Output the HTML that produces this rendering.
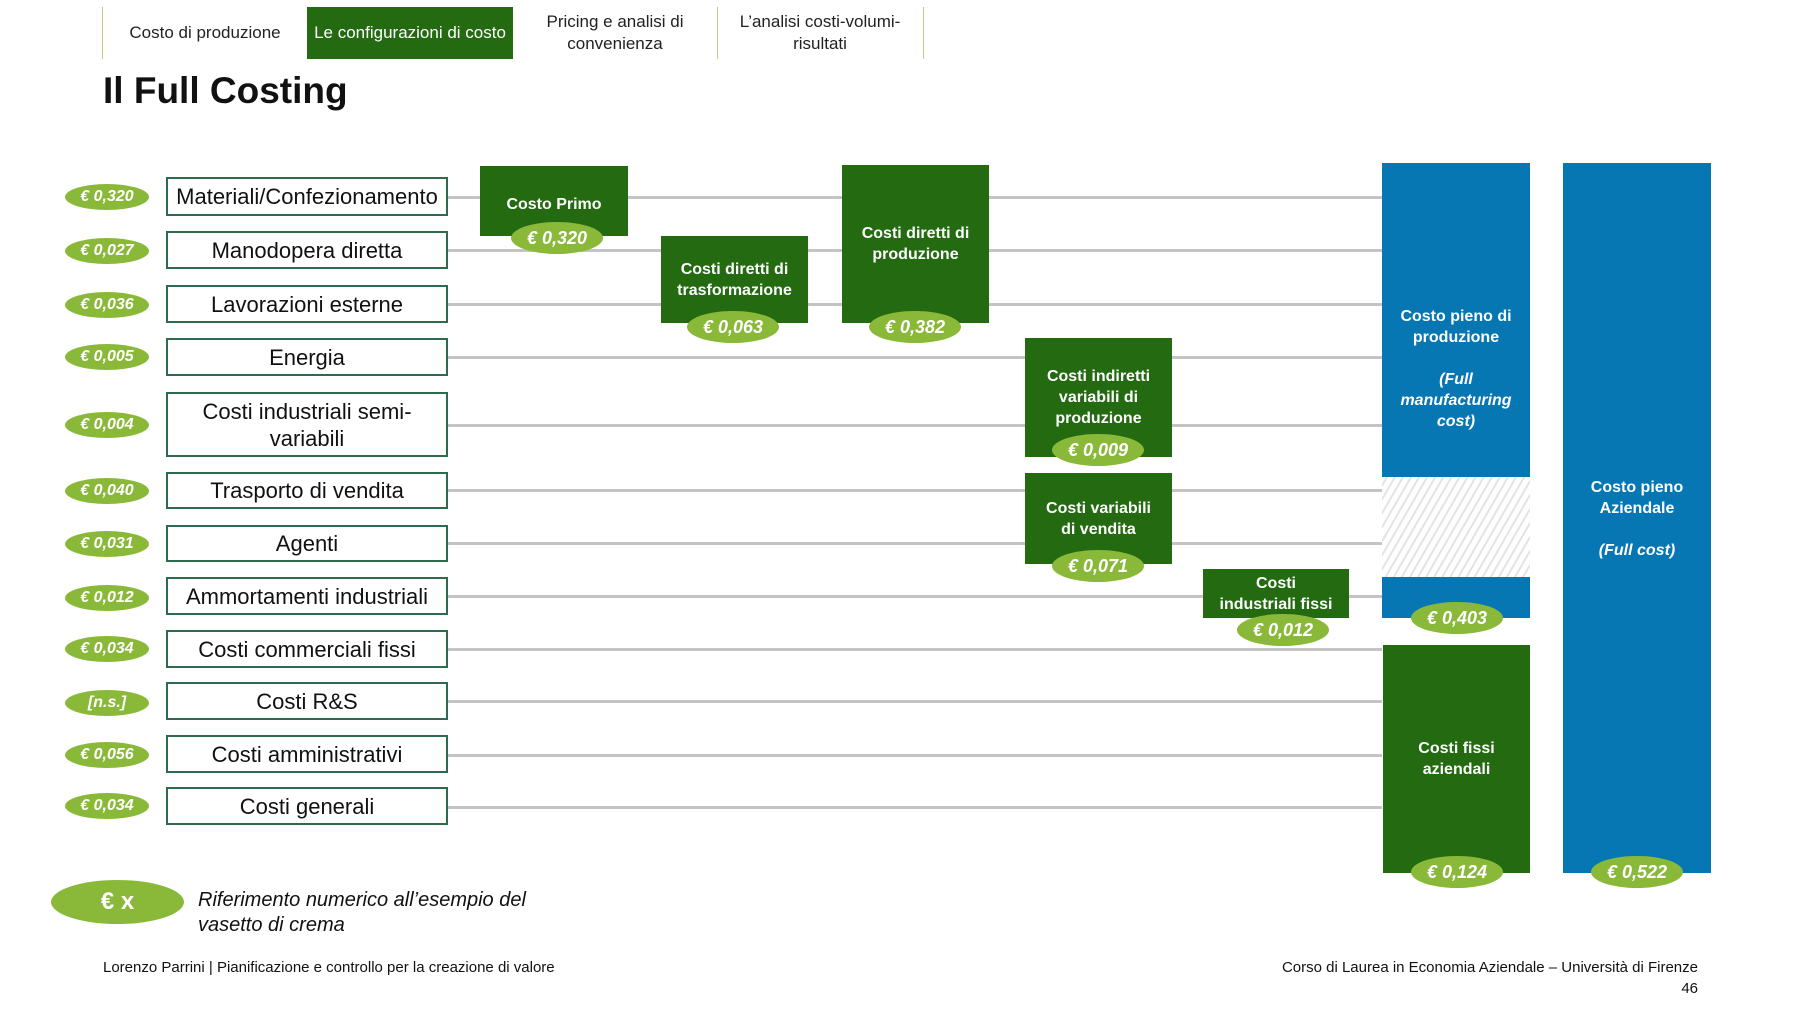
<!DOCTYPE html>
<html><head><meta charset="utf-8"><style>
body{margin:0;width:1800px;height:1013px;background:#fff;position:relative;overflow:hidden;font-family:"Liberation Sans Narrow","Liberation Sans",sans-serif;}
.a{position:absolute;}
.tab{position:absolute;top:7px;height:52px;display:flex;align-items:center;justify-content:center;text-align:center;font-size:17px;color:#222;line-height:22px;}
.sep{position:absolute;top:7px;width:1px;height:52px;background:#c9c48a;}
.pill{position:absolute;width:84px;height:26px;border-radius:50%;background:#8ab93a;color:#fff;font-weight:bold;font-style:italic;font-size:16px;display:flex;align-items:center;justify-content:center;}
.bp{position:absolute;width:92px;height:32px;border-radius:50%;background:#8ab93a;color:#fff;font-weight:bold;font-style:italic;font-size:18px;display:flex;align-items:center;justify-content:center;font-family:"Liberation Sans",sans-serif;}
.box{position:absolute;left:166px;width:282px;border:2px solid #2e6b4e;box-sizing:border-box;background:#fff;display:flex;align-items:center;justify-content:center;text-align:center;font-size:22px;color:#111;line-height:27px;font-family:"Liberation Sans",sans-serif;white-space:nowrap;}
.ln{position:absolute;left:448px;height:3px;background:#c4c4c4;}
.g{position:absolute;background:#236a11;color:#fff;font-weight:bold;font-size:16px;display:flex;align-items:center;justify-content:center;text-align:center;line-height:21px;font-family:"Liberation Sans",sans-serif;box-sizing:border-box;}
.bl{position:absolute;background:#0677b3;}
.wt{position:absolute;color:#fff;font-weight:bold;font-size:16px;text-align:center;line-height:21px;font-family:"Liberation Sans",sans-serif;}
</style></head><body>
<div class="sep" style="left:102px"></div>
<div class="tab" style="left:103px;width:204px">Costo di produzione</div>
<div class="tab" style="left:307px;width:206px;background:#236a11;color:#fff">Le configurazioni di costo</div>
<div class="tab" style="left:513px;width:204px">Pricing e analisi di<br>convenienza</div>
<div class="sep" style="left:717px"></div>
<div class="tab" style="left:718px;width:204px">L’analisi costi-volumi-<br>risultati</div>
<div class="sep" style="left:923px"></div>
<div class="a" style="left:103px;top:70px;font-size:37px;font-weight:bold;color:#111;font-family:'Liberation Sans',sans-serif">Il Full Costing</div>

<div class="ln" style="top:196px;width:934px"></div>
<div class="ln" style="top:249px;width:934px"></div>
<div class="ln" style="top:303px;width:934px"></div>
<div class="ln" style="top:356px;width:934px"></div>
<div class="ln" style="top:424px;width:934px"></div>
<div class="ln" style="top:489px;width:934px"></div>
<div class="ln" style="top:542px;width:934px"></div>
<div class="ln" style="top:595px;width:934px"></div>
<div class="ln" style="top:648px;width:934px"></div>
<div class="ln" style="top:700px;width:934px"></div>
<div class="ln" style="top:754px;width:934px"></div>
<div class="ln" style="top:806px;width:934px"></div>

<div class="box" style="top:177px;height:39px">Materiali/Confezionamento</div>
<div class="box" style="top:231px;height:38px">Manodopera diretta</div>
<div class="box" style="top:285px;height:38px">Lavorazioni esterne</div>
<div class="box" style="top:338px;height:38px">Energia</div>
<div class="box" style="top:392px;height:65px">Costi industriali semi-<br>variabili</div>
<div class="box" style="top:472px;height:37px">Trasporto di vendita</div>
<div class="box" style="top:525px;height:37px">Agenti</div>
<div class="box" style="top:577px;height:38px">Ammortamenti industriali</div>
<div class="box" style="top:630px;height:38px">Costi commerciali fissi</div>
<div class="box" style="top:682px;height:38px">Costi R&amp;S</div>
<div class="box" style="top:735px;height:38px">Costi amministrativi</div>
<div class="box" style="top:787px;height:38px">Costi generali</div>

<div class="pill" style="left:65px;top:184px">€ 0,320</div>
<div class="pill" style="left:65px;top:238px">€ 0,027</div>
<div class="pill" style="left:65px;top:292px">€ 0,036</div>
<div class="pill" style="left:65px;top:344px">€ 0,005</div>
<div class="pill" style="left:65px;top:412px">€ 0,004</div>
<div class="pill" style="left:65px;top:478px">€ 0,040</div>
<div class="pill" style="left:65px;top:531px">€ 0,031</div>
<div class="pill" style="left:65px;top:585px">€ 0,012</div>
<div class="pill" style="left:65px;top:636px">€ 0,034</div>
<div class="pill" style="left:65px;top:690px">[n.s.]</div>
<div class="pill" style="left:65px;top:742px">€ 0,056</div>
<div class="pill" style="left:65px;top:793px">€ 0,034</div>

<div class="g" style="left:480px;top:166px;width:148px;height:70px;padding-top:6px">Costo Primo</div>
<div class="bp" style="left:511px;top:222px">€ 0,320</div>
<div class="g" style="left:661px;top:236px;width:147px;height:87px">Costi diretti di<br>trasformazione</div>
<div class="bp" style="left:687px;top:311px">€ 0,063</div>
<div class="g" style="left:842px;top:165px;width:147px;height:158px">Costi diretti di<br>produzione</div>
<div class="bp" style="left:869px;top:311px">€ 0,382</div>
<div class="g" style="left:1025px;top:338px;width:147px;height:119px">Costi indiretti<br>variabili di<br>produzione</div>
<div class="bp" style="left:1052px;top:434px">€ 0,009</div>
<div class="g" style="left:1025px;top:473px;width:147px;height:91px">Costi variabili<br>di vendita</div>
<div class="bp" style="left:1052px;top:550px">€ 0,071</div>
<div class="g" style="left:1203px;top:569px;width:146px;height:49px">Costi<br>industriali fissi</div>
<div class="bp" style="left:1237px;top:614px">€ 0,012</div>

<div class="bl" style="left:1382px;top:163px;width:148px;height:314px"></div>
<div class="a" style="left:1382px;top:477px;width:148px;height:100px;background:repeating-linear-gradient(-60deg,#fff 0 5px,#e4e4e4 5px 7px)"></div>
<div class="bl" style="left:1382px;top:577px;width:148px;height:41px"></div>
<div class="wt" style="left:1382px;top:306px;width:148px">Costo pieno di<br>produzione<br><br><i>(Full<br>manufacturing<br>cost)</i></div>
<div class="bp" style="left:1411px;top:602px">€ 0,403</div>
<div class="g" style="left:1383px;top:645px;width:147px;height:228px">Costi fissi<br>aziendali</div>
<div class="bp" style="left:1411px;top:856px">€ 0,124</div>
<div class="bl" style="left:1563px;top:163px;width:148px;height:710px"></div>
<div class="wt" style="left:1563px;top:477px;width:148px">Costo pieno<br>Aziendale<br><br><i>(Full cost)</i></div>
<div class="bp" style="left:1591px;top:856px">€ 0,522</div>

<div class="a" style="left:51px;top:880px;width:133px;height:44px;border-radius:50%;background:#8ab93a;color:#fff;font-weight:bold;font-size:24px;display:flex;align-items:center;justify-content:center;font-family:'Liberation Sans',sans-serif">€ x</div>
<div class="a" style="left:198px;top:888px;font-size:20px;font-style:italic;line-height:25px;color:#111;font-family:'Liberation Sans',sans-serif">Riferimento numerico all’esempio del<br>vasetto di crema</div>

<div class="a" style="left:103px;top:959px;font-size:15px;color:#111;font-family:'Liberation Sans',sans-serif">Lorenzo Parrini | Pianificazione e controllo per la creazione di valore</div>
<div class="a" style="right:102px;top:957px;font-size:15px;color:#111;text-align:right;line-height:21px;font-family:'Liberation Sans',sans-serif">Corso di Laurea in Economia Aziendale – Università di Firenze<br>46</div>
</body></html>
